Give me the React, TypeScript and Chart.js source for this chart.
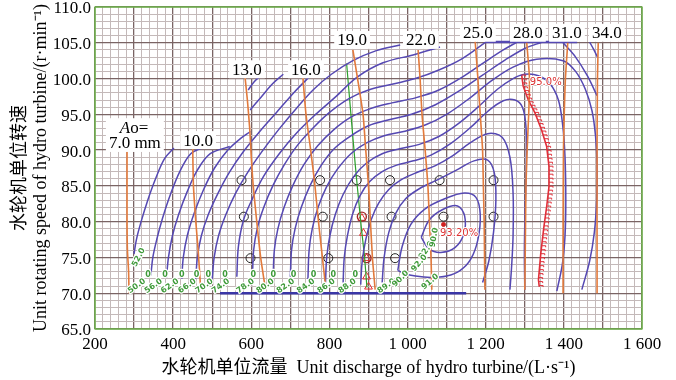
import React, { useEffect, useRef } from 'react';
import { Chart, registerables } from 'chart.js';

Chart.register(...registerables);

type P = [number, number];

// ---------- axes ----------
const X_MIN = 200;
const X_MAX = 1600;
const Y_MIN = 65;
const Y_MAX = 110;
const X_TICK_LABELS = ['200', '400', '600', '800', '1 000', '1 200', '1 400', '1 600'];
const Y_TICK_LABELS = ['65.0', '70.0', '75.0', '80.0', '85.0', '90.0', '95.0', '100.0', '105.0', '110.0'];
const X_TITLE = '水轮机单位流量  Unit discharge of hydro turbine/(L·s⁻¹)';
const Y_TITLE = ['水轮机单位转速', 'Unit rotating speed of hydro turbine/(r·min⁻¹)'];

// ---------- guide vane opening lines (Ao, mm) ----------
const vane07: P[] = [[282, 90.2], [282, 80], [283, 76], [286, 73], [287, 70]];
const vane10: P[] = [[450, 90.5], [452, 85], [458, 80], [464, 76], [470, 71]];
const vane13: P[] = [[584, 100.2], [590, 97], [596, 93], [600, 89], [605, 85], [614, 80], [624, 75], [635, 71]];
const vane16: P[] = [[732, 100.2], [740, 95], [752, 90], [763, 85], [772, 80], [782, 75], [790, 71]];
const vane19: P[] = [[860, 104], [872, 100], [886, 95], [893, 90], [900, 85], [905, 80], [910, 75], [917, 70.5]];
const vane22: P[] = [[1027, 104], [1032, 100], [1037, 95], [1045, 90], [1052, 85], [1056, 80], [1060, 75], [1062, 70.5]];
const vane25: P[] = [[1173, 105.2], [1180, 100], [1186, 95], [1192, 90], [1194, 85], [1196, 80], [1197, 75], [1198, 70.5]];
const vane28: P[] = [[1305, 105], [1312, 100], [1310, 95], [1306, 90], [1303, 85], [1302, 80], [1301, 75], [1300, 70.5]];
const vane31: P[] = [[1410, 105], [1404, 100], [1401, 95], [1399, 90], [1398, 80], [1398, 70]];
const vane34: P[] = [[1488, 105], [1486, 100], [1485, 90], [1485, 70]];
const VANE_LABELS: [string, number, number][] = [
  ['10.0', 464, 91.4], ['13.0', 589, 101.3], ['16.0', 740, 101.3], ['19.0', 858, 105.4],
  ['22.0', 1034, 105.4], ['25.0', 1180, 106.4], ['28.0', 1308, 106.4], ['31.0', 1408, 106.4], ['34.0', 1510, 106.4],
];
const AO_LABEL_POS: P[] = [[300, 93.2], [302, 91.0]];

// ---------- efficiency contours ----------
const effF1: P[] = [[300, 75.5], [306, 77.5], [318, 80], [335, 83], [355, 86], [378, 88.8], [402, 90.3]];
const effF2: P[] = [[343, 72.5], [348, 75], [358, 77.5], [373, 80.5], [393, 83.8], [417, 87], [445, 89.5], [477, 90.4]];
const effF3: P[] = [[383, 72.2], [388, 75], [398, 78], [414, 81], [436, 84.2], [462, 87.2], [495, 89.5], [545, 90.5]];
const effF4: P[] = [[422, 72], [426, 75], [436, 78], [454, 81.2], [478, 84.5], [506, 87.5], [540, 90], [572, 91.6], [598, 92.6]];
const effF4b: P[] = [[592, 98.4], [608, 99.6], [627, 100.5]];
const effF4c: P[] = [[597, 95.6], [625, 97.4], [655, 99.3], [682, 100.6]];
const effF5: P[] = [[458, 72], [462, 75], [472, 78], [490, 81], [515, 84], [545, 87], [580, 89.8], [620, 92.5], [665, 95.3], [710, 98.1], [755, 100.6]];
const effF6: P[] = [[500, 72], [505, 75], [516, 78], [535, 81], [560, 84], [592, 87], [630, 90], [672, 93], [718, 96], [760, 98.5], [805, 100.6], [860, 102.5], [920, 103.9], [981, 104.7]];
const effF7: P[] = [[563, 72.3], [567, 76.5], [580, 80.2], [601, 83], [631, 86.3], [673, 89.6], [716, 92.4], [767, 95.1], [815, 97.4], [871, 100.2], [937, 102.2], [1014, 103.3], [1083, 104.4]];
const effF8: P[] = [[603, 72.3], [606, 76], [615, 79], [632, 82], [655, 85], [685, 88], [720, 90.8], [760, 93.2], [801, 95.3], [850, 97.2], [900, 98.4], [960, 99.2], [1020, 100], [1080, 101.2], [1140, 102.8], [1200, 105.1]];
const effF9: P[] = [[656, 72.3], [659, 76], [668, 79], [684, 82], [706, 85], [735, 88], [770, 90.6], [810, 92.8], [855, 94.6], [905, 95.8], [960, 96.6], [1020, 97.3], [1080, 98.4], [1140, 100.2], [1200, 102.4], [1245, 104], [1280, 105.1]];
const effF10: P[] = [[700, 72.3], [703, 76], [712, 79], [728, 82], [750, 85], [778, 87.8], [812, 90.2], [855, 92], [900, 93.4], [950, 94.2], [1010, 95], [1070, 96.3], [1130, 98.2], [1190, 100.4], [1250, 102.6], [1300, 104.2], [1345, 105.1]];
const effF11: P[] = [[745, 72], [748, 76], [756, 79], [771, 82], [792, 84.8], [820, 87.3], [855, 89.5], [895, 91], [940, 92], [990, 92.6], [1045, 93.5], [1100, 95], [1160, 97.3], [1215, 99.7], [1270, 101.6], [1330, 102.7], [1398, 102.5], [1430, 101], [1455, 98.5], [1472, 95.5], [1481, 92], [1485, 88], [1484, 83], [1478, 78.5], [1466, 74.5], [1446, 70.5]];
const effF12: P[] = [[790, 71.5], [793, 75], [801, 78], [815, 81], [835, 83.8], [862, 86.3], [895, 88.2], [935, 89.5], [980, 90.2], [1030, 90.8], [1080, 91.9], [1130, 93.7], [1180, 96], [1230, 98.5], [1270, 100], [1300, 100.6], [1335, 100.4], [1364, 99.3], [1386, 97], [1397, 93.5], [1403, 89], [1405, 83], [1403, 78], [1396, 74], [1382, 70.3]];
const effF13: P[] = [[835, 71.5], [838, 75], [846, 78], [859, 81], [878, 83.6], [903, 85.6], [935, 87], [972, 87.9], [1015, 88.5], [1060, 89.3], [1110, 90.9], [1160, 93.1], [1205, 95.4], [1245, 96.9], [1275, 97], [1294, 96], [1303, 93.3], [1304, 88], [1301, 82], [1299, 76], [1300, 70.5]];
const effF14: P[] = [[880, 71.2], [884, 74.5], [893, 77.5], [907, 80.3], [926, 82.6], [952, 84.5], [985, 85.9], [1025, 86.9], [1070, 87.8], [1115, 89.2], [1160, 91], [1205, 92.3], [1242, 91.8], [1262, 89], [1270, 84], [1270, 78], [1266, 73.5], [1262, 70.5]];
const effF15: P[] = [[935, 71.5], [940, 75], [952, 78.5], [970, 81.2], [995, 83.2], [1030, 84.6], [1075, 85.8], [1125, 87.2], [1170, 88.5], [1205, 88.6], [1222, 86.8], [1226, 83], [1220, 78.5], [1208, 74.5], [1192, 71.5]];
const effC2: P[] = [[975, 73.2], [986, 76.5], [1008, 79.6], [1045, 81.8], [1095, 83.2], [1145, 84], [1175, 83.4], [1186, 81], [1180, 77.5], [1162, 74.8], [1135, 73.2], [1100, 72.4], [1060, 72.2], [1020, 72.4], [990, 72.8], [975, 73.2]];
const effC1: P[] = [[1035, 77.8], [1055, 80.2], [1090, 81.7], [1128, 82.2], [1146, 80.8], [1144, 78.3], [1122, 76.4], [1085, 75.7], [1055, 76.2], [1035, 77.8]];
const effS1: P[] = [[1398, 105], [1430, 103], [1460, 100.4], [1485, 97.6]];
const effS2: P[] = [[1466, 105.1], [1476, 104.1], [1486, 103]];
const limitBottom: P[] = [[520, 70], [1150, 70]];
const limitTop: P[] = [[1200, 105.1], [1434, 105.1]];

// ---------- other lines and points ----------
const redLimit: P[] = [[1292, 100.5], [1296, 98.9], [1309, 97], [1326, 95.2], [1343, 92.8], [1356, 90.5], [1362, 87.7], [1362, 84.9], [1356, 82.1], [1349, 79.3], [1341, 75.6], [1335, 71.9], [1337, 70.9]];
const greenLine: P[] = [[844, 102.1], [855, 95], [866, 88], [873, 84], [882, 79], [890, 75], [896, 70.8]];
const testPoints: P[] = [
  [575, 85.8], [776, 85.8], [870, 85.8], [955, 85.8], [1082, 85.8], [1220, 85.8],
  [581, 80.7], [783, 80.7], [959, 80.7], [1092, 80.7], [1220, 80.7],
  [598, 74.9], [797, 74.9], [968, 74.9],
];
const redTestPoints: P[] = [[883, 80.7], [895, 74.9]];
const trianglePoints: P[] = [[883, 80.5], [887, 78.4], [895, 74.9], [895, 72.3], [900, 70.9]];
const peakPoint: P[] = [[1092, 79.6]];
const RED_LABELS: [string, number, number][] = [['95.0%', 1313, 99.5], ['93.20%', 1083, 78.4]];

// green efficiency labels [text, x, y, angle(deg)]
const GREEN_LABELS: [string, number, number, number][] = [
  ['52.0', 312, 75.0, -62],
  ['50.0', 307, 71.0, -35], ['56.0', 350, 71.0, -35], ['62.0', 392, 71.0, -35], ['66.0', 436, 71.0, -35],
  ['70.0', 480, 71.0, -35], ['74.0', 522, 71.0, -35], ['78.0', 585, 71.0, -35], ['80.0', 636, 71.0, -35],
  ['82.0', 688, 71.0, -35], ['84.0', 740, 71.0, -35], ['86.0', 792, 71.0, -35], ['88.0', 846, 71.0, -35],
  ['89.0', 946, 71.0, -35], ['90.0', 982, 72.0, -45],
  ['0', 336, 72.6, 0], ['0', 379, 72.6, 0], ['0', 422, 72.6, 0], ['0', 460, 72.6, 0], ['0', 490, 72.6, 0],
  ['0', 533, 72.6, 0], ['0', 605, 72.6, 0], ['0', 656, 72.6, 0], ['0', 708, 72.6, 0], ['0', 759, 72.6, 0],
  ['0', 810, 72.6, 0], ['0', 866, 72.6, 0],
  ['92.0', 1048, 76.0, -55], ['92.0', 1030, 74.2, -50], ['91.0', 1058, 71.6, -40], ['90.0', 1068, 77.8, -80],
];

// ---------- styles ----------
const SERIF = "'Liberation Serif', 'Noto Sans CJK SC', serif";
const CONTOUR = '#5548b2';
const VANE = '#e27a3c';
const GRID_MINOR = '#c4b9b9';
const GRID_MAJOR = '#7a6464';

const toXY = (pts: P[]) => pts.map(([x, y]) => ({ x, y }));

function lineDs(pts: P[], color: string, width: number, tension = 0.35, extra: any = {}) {
  return {
    data: toXY(pts), showLine: true, borderColor: color, borderWidth: width,
    pointRadius: 0, pointHoverRadius: 0, tension, fill: false, ...extra,
  };
}

const contours = [effF1, effF2, effF3, effF4, effF4b, effF4c, effF5, effF6, effF7, effF8, effF9, effF10,
  effF11, effF12, effF13, effF14, effF15, effC2, effC1, effS1, effS2];
const vanes = [vane07, vane10, vane13, vane16, vane19, vane22, vane25, vane28, vane31, vane34];

const decorPlugin = {
  id: 'decor',
  afterDatasetsDraw(chart: any) {
    const { ctx, chartArea, scales } = chart;
    const xs = scales.x;
    const ys = scales.y;
    const px = (v: number) => xs.getPixelForValue(v);
    const py = (v: number) => ys.getPixelForValue(v);
    ctx.save();

    // hatch ticks along the red limit line
    chart.data.datasets.forEach((ds: any, i: number) => {
      if (!ds.hatched) return;
      const pts = chart.getDatasetMeta(i).data;
      ctx.strokeStyle = '#e0303a';
      ctx.lineWidth = 1;
      let carry = 0;
      for (let k = 0; k < pts.length - 1; k++) {
        const a = pts[k], b = pts[k + 1];
        const len = Math.hypot(b.x - a.x, b.y - a.y);
        let d = carry;
        while (d < len) {
          const t = d / len;
          const x = a.x + (b.x - a.x) * t;
          const y = a.y + (b.y - a.y) * t;
          ctx.beginPath();
          ctx.moveTo(x, y);
          ctx.lineTo(x + 4, y);
          ctx.lineTo(x + 4, y + 1.5);
          ctx.stroke();
          d += 4;
        }
        carry = d - len;
      }
    });

    // green efficiency labels
    ctx.font = "bold 8px 'DejaVu Sans', sans-serif";
    ctx.textAlign = 'center';
    ctx.textBaseline = 'middle';
    ctx.lineJoin = 'round';
    GREEN_LABELS.forEach(([t, x, y, ang]) => {
      ctx.save();
      ctx.translate(px(x), py(y));
      ctx.rotate((ang * Math.PI) / 180);
      ctx.strokeStyle = '#ffffff';
      ctx.lineWidth = 2.5;
      ctx.strokeText(t, 0, 0);
      ctx.fillStyle = '#3f9a3a';
      ctx.fillText(t, 0, 0);
      ctx.restore();
    });

    // red labels
    ctx.font = "10px 'DejaVu Sans', sans-serif";
    ctx.textAlign = 'left';
    RED_LABELS.forEach(([t, x, y]) => {
      ctx.strokeStyle = '#ffffff';
      ctx.lineWidth = 2;
      ctx.strokeText(t, px(x), py(y));
      ctx.fillStyle = '#dc3030';
      ctx.fillText(t, px(x), py(y));
    });

    // vane opening labels with white boxes
    ctx.font = `17px ${SERIF}`;
    ctx.textAlign = 'center';
    const boxText = (t: string, cx: number, cy: number) => {
      const w = ctx.measureText(t).width;
      ctx.fillStyle = '#ffffff';
      ctx.fillRect(cx - w / 2 - 3, cy - 9, w + 6, 18);
      ctx.fillStyle = '#000000';
      ctx.fillText(t, cx, cy + 1);
    };
    VANE_LABELS.forEach(([t, x, y]) => boxText(t, px(x), py(y)));

    // Ao = 7.0 mm
    const [p1, p2] = AO_LABEL_POS;
    const c1x = px(p1[0]), c1y = py(p1[1]);
    const c2x = px(p2[0]), c2y = py(p2[1]);
    ctx.font = `17px ${SERIF}`;
    const w2 = ctx.measureText('7.0 mm').width;
    ctx.fillStyle = '#ffffff';
    ctx.fillRect(c2x - w2 / 2 - 3, c1y - 9, w2 + 6, c2y - c1y + 18);
    ctx.fillStyle = '#000000';
    ctx.fillText('7.0 mm', c2x, c2y + 1);
    ctx.font = `italic 17px ${SERIF}`;
    const wa = ctx.measureText('A').width;
    ctx.font = `17px ${SERIF}`;
    const wb = ctx.measureText('o=').width;
    const start = c1x - (wa + wb) / 2;
    ctx.textAlign = 'left';
    ctx.font = `italic 17px ${SERIF}`;
    ctx.fillText('A', start, c1y + 1);
    ctx.font = `17px ${SERIF}`;
    ctx.fillText('o=', start + wa, c1y + 1);

    // green plot border
    ctx.strokeStyle = '#6cb24a';
    ctx.lineWidth = 1.5;
    ctx.strokeRect(chartArea.left, chartArea.top, chartArea.right - chartArea.left, chartArea.bottom - chartArea.top);
    ctx.restore();
  },
};

export default function App() {
  const ref = useRef<HTMLCanvasElement>(null);

  useEffect(() => {
    document.body.style.margin = '0';
    const canvas = ref.current;
    if (!canvas) return;

    const datasets: any[] = [];
    vanes.forEach((v) => datasets.push(lineDs(v, VANE, 1.6, 0.2)));
    contours.forEach((c) => datasets.push(lineDs(c, CONTOUR, 1.5, 0.35)));
    datasets.push(lineDs(limitBottom, '#3a36a6', 2.6, 0));
    datasets.push(lineDs(limitTop, '#5548b2', 2.6, 0));
    datasets.push(lineDs(redLimit, '#e0303a', 1.6, 0, { hatched: true }));
    datasets.push(lineDs(greenLine, '#2da02d', 1.2, 0.2));
    datasets.push({
      data: toXY(testPoints), showLine: false, pointStyle: 'circle', pointRadius: 4.5,
      pointBorderColor: '#222222', pointBackgroundColor: 'rgba(0,0,0,0)', pointBorderWidth: 1,
    });
    datasets.push({
      data: toXY(redTestPoints), showLine: false, pointStyle: 'circle', pointRadius: 4.5,
      pointBorderColor: '#a02828', pointBackgroundColor: 'rgba(0,0,0,0)', pointBorderWidth: 1.4,
    });
    datasets.push({
      data: toXY(trianglePoints), showLine: false, pointStyle: 'triangle', pointRadius: 4.5,
      pointBorderColor: '#e83030', pointBackgroundColor: 'rgba(255,255,255,0)', pointBorderWidth: 1,
    });
    datasets.push({
      data: toXY(peakPoint), showLine: false, pointStyle: 'circle', pointRadius: 2,
      pointBorderColor: '#d02020', pointBackgroundColor: '#d02020', pointBorderWidth: 1,
    });

    const font = { family: SERIF, size: 17 };
    const chart = new Chart(canvas, {
      type: 'scatter',
      data: { datasets },
      options: {
        responsive: false,
        maintainAspectRatio: false,
        animation: false,
        events: [],
        layout: { padding: { top: 7, right: 34, left: 0, bottom: 0 } },
        plugins: { legend: { display: false }, tooltip: { enabled: false } },
        scales: {
          x: {
            type: 'linear', min: X_MIN, max: X_MAX,
            afterFit: (s: any) => { s.height = 51; s.paddingLeft = 0; s.paddingRight = 0; },
            ticks: {
              stepSize: 20, autoSkip: false, maxRotation: 0, minRotation: 0, padding: 5,
              color: '#000', font,
              callback: (v: any) => {
                const n = Math.round(Number(v));
                return n % 200 === 0 ? X_TICK_LABELS[(n - X_MIN) / 200] : '';
              },
            },
            grid: {
              drawTicks: false,
              color: (c: any) => (Math.round(c.tick.value) % 100 === 0 ? GRID_MAJOR : GRID_MINOR),
              lineWidth: (c: any) => (Math.round(c.tick.value) % 100 === 0 ? 1.3 : 1),
            },
            border: { display: false },
            title: { display: true, text: X_TITLE, color: '#000', font: { family: SERIF, size: 18 }, padding: { top: 0, bottom: 1 } },
          },
          y: {
            type: 'linear', min: Y_MIN, max: Y_MAX,
            afterFit: (s: any) => { s.width = 95; s.paddingTop = 0; s.paddingBottom = 0; },
            ticks: {
              stepSize: 1, autoSkip: false, padding: 4, labelOffset: 2, color: '#000', font,
              callback: (v: any) => {
                const n = Math.round(Number(v));
                return n % 5 === 0 ? Y_TICK_LABELS[(n - Y_MIN) / 5] : '';
              },
            },
            grid: {
              drawTicks: false,
              color: (c: any) => (Math.round(c.tick.value) % 5 === 0 ? GRID_MAJOR : GRID_MINOR),
              lineWidth: (c: any) => (Math.round(c.tick.value) % 5 === 0 ? 1.3 : 1),
            },
            border: { display: false },
            title: { display: true, text: Y_TITLE, color: '#000', font: { family: SERIF, size: 18 }, padding: { top: 9, bottom: 0 } },
          },
        },
      } as any,
      plugins: [decorPlugin],
    });
    return () => chart.destroy();
  }, []);

  return (
    <div style={{ width: 676, height: 380, background: '#ffffff' }}>
      <canvas ref={ref} width={676} height={380} style={{ display: 'block' }} />
    </div>
  );
}
